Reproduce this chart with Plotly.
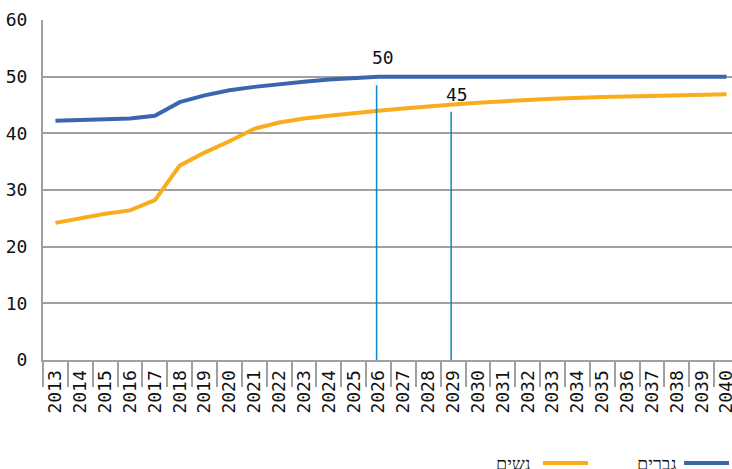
import plotly.graph_objects as go

years = [str(y) for y in range(2013, 2041)]
men = [42.2, 42.3, 42.4, 42.6, 43.1, 45.5, 46.7, 47.6, 48.2, 48.7, 49.1, 49.5, 49.8, 50.0,
       50.0, 50.0, 50.0, 50.0, 50.0, 50.0, 50.0, 50.0, 50.0, 50.0, 50.0, 50.0, 50.0, 50.0]
women = [24.2, 25.0, 25.8, 26.4, 28.2, 34.3, 36.6, 38.6, 40.8, 41.9, 42.6, 43.1, 43.6, 44.0,
         44.4, 44.8, 45.1, 45.4, 45.7, 45.9, 46.1, 46.3, 46.4, 46.5, 46.6, 46.7, 46.8, 46.9]
men_name = "גברים"
women_name = "נשים"
markers = [("2026", 48.5, "50", 53.3), ("2029", 43.8, "45", 46.8)]

BLUE = "#3a66b0"
ORANGE = "#f9ac1c"
MARK = "#0a86d2"
GRID = "#a0a0a0"
FONT = "DejaVu Sans Mono"

fig = go.Figure()
fig.add_trace(go.Scatter(x=years, y=women, mode="lines", name=women_name,
                         line=dict(color=ORANGE, width=4), showlegend=False))
fig.add_trace(go.Scatter(x=years, y=men, mode="lines", name=men_name,
                         line=dict(color=BLUE, width=4), showlegend=False))

for yr, top, label, ly in markers:
    xi = years.index(yr)
    fig.add_shape(type="line", xref="x", yref="y", x0=xi, x1=xi, y0=0, y1=top,
                  x0shift=-0.08, x1shift=-0.08,
                  line=dict(color=MARK, width=1.5), layer="above")
    fig.add_annotation(xref="x", yref="y", x=xi, y=ly, text=label, showarrow=False, xshift=4,
                       font=dict(family=FONT, size=18, color="#111"))

# manual right-to-left legend (text left of the line sample)
legend_items = [(0.921, 0.9856, 0.9124, BLUE, men_name),
                (0.7184, 0.783, 0.704, ORANGE, women_name)]
for x0, x1, xt, col, name in legend_items:
    fig.add_shape(type="line", xref="paper", yref="paper", x0=x0, x1=x1,
                  y0=-0.303, y1=-0.303, line=dict(color=col, width=4), layer="above")
    fig.add_annotation(xref="paper", yref="paper", x=xt, y=-0.303, text=name,
                       showarrow=False, xanchor="right", yanchor="middle",
                       font=dict(family=FONT, size=18, color="#111"))

fig.update_layout(
    width=739, height=469,
    margin=dict(l=43, r=0, t=20, b=109, autoexpand=False),
    plot_bgcolor="white", paper_bgcolor="white",
    font=dict(family=FONT, size=18, color="#111"),
    showlegend=False,
)
fig.update_xaxes(type="category", range=[-0.5, 27.5], tickangle=-90, automargin=False,
                 showline=True, linecolor=GRID, linewidth=2,
                 ticks="outside", tickson="boundaries", ticklen=25, tickwidth=2, tickcolor=GRID,
                 showgrid=False, ticklabelstandoff=1, tickfont=dict(family=FONT, size=18))
fig.update_yaxes(range=[0, 60], dtick=10, showline=True, linecolor=GRID, linewidth=2,
                 automargin=False,
                 showgrid=True, gridcolor=GRID, gridwidth=2, zeroline=False,
                 ticks="", ticklabelstandoff=10, tickfont=dict(family=FONT, size=18))

fig.write_html("out.html", config={"displayModeBar": False},
               post_script="document.body.style.margin='0';document.body.style.overflow='hidden';")
